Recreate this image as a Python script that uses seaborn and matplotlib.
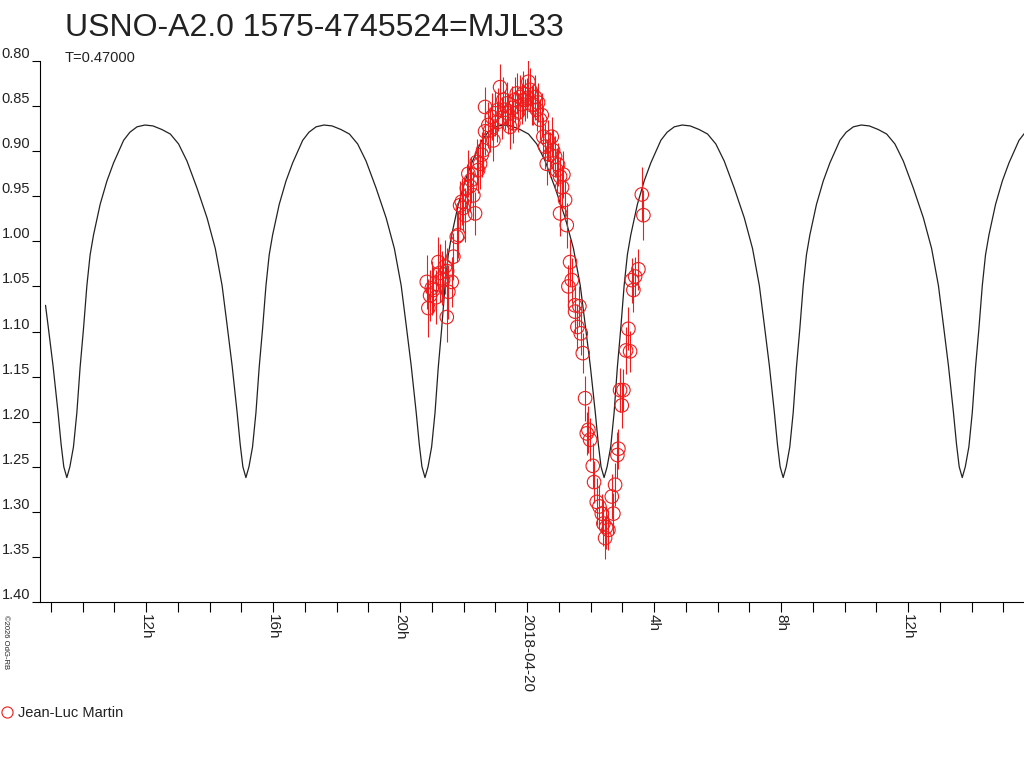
import numpy as np
import pandas as pd
import matplotlib
matplotlib.use("Agg")
import matplotlib.pyplot as plt
from matplotlib.lines import Line2D
from matplotlib.ticker import FormatStrFormatter, FixedLocator, MultipleLocator
import seaborn as sns

# ---------------- data ----------------
title = "USNO-A2.0 1575-4745524=MJL33"
period_days = 0.47
observer = "Jean-Luc Martin"

# observation times: hours relative to 2018-04-20 00:00 UT
obs_hours = [-3.159, -3.109, -3.055, -3.002, -2.961, -2.866, -2.794, -2.740, -2.687, -2.646,
             -2.583, -2.529, -2.520, -2.479, -2.372, -2.321, -2.214, -2.164, -2.110, -2.057,
             -2.016, -1.953, -1.899, -1.849, -1.795, -1.764, -1.691, -1.638, -1.584, -1.543,
             -1.480, -1.427, -1.386, -1.323, -1.323, -1.219, -1.165, -1.112, -1.061, -1.008,
             -0.945, -0.904, -0.850, -0.787, -0.746, -0.693, -0.639, -0.598, -0.535, -0.472,
             -0.431, -0.378, -0.324, -0.283, -0.220, -0.157, -0.117, -0.063, 0.000, 0.041,
             0.094, 0.148, 0.189, 0.252, 0.306, 0.346, 0.409, 0.463, 0.513, 0.567,
             0.620, 0.661, 0.724, 0.778, 0.819, 0.882, 0.935, 0.976, 1.039, 1.039,
             1.102, 1.143, 1.197, 1.250, 1.301, 1.354, 1.408, 1.512, 1.512, 1.584,
             1.647, 1.691, 1.754, 1.827, 1.880, 1.931, 1.984, 2.069, 2.110, 2.195,
             2.277, 2.353, 2.403, 2.457, 2.488, 2.561, 2.668, 2.718, 2.772, 2.844,
             2.876, 2.929, 2.983, 3.033, 3.118, 3.191, 3.244, 3.298, 3.348, 3.402,
             3.506, 3.613, 3.663]
obs_mag = [1.045, 1.074, 1.060, 1.052, 1.054, 1.062, 1.023, 1.035, 1.041, 1.043,
           1.028, 1.084, 1.033, 1.056, 1.045, 1.017, 0.995, 0.993, 0.960, 0.956,
           0.963, 0.971, 0.941, 0.925, 0.939, 0.932, 0.949, 0.969, 0.912, 0.921,
           0.914, 0.904, 0.899, 0.878, 0.851, 0.871, 0.877, 0.862, 0.888, 0.858,
           0.868, 0.854, 0.829, 0.863, 0.843, 0.854, 0.847, 0.858, 0.873, 0.852,
           0.869, 0.843, 0.836, 0.857, 0.840, 0.848, 0.836, 0.843, 0.841, 0.823,
           0.832, 0.849, 0.848, 0.840, 0.854, 0.846, 0.865, 0.860, 0.884, 0.895,
           0.914, 0.888, 0.904, 0.884, 0.899, 0.906, 0.921, 0.915, 0.928, 0.969,
           0.940, 0.926, 0.954, 0.982, 1.050, 1.023, 1.043, 1.071, 1.078, 1.095,
           1.072, 1.102, 1.124, 1.174, 1.213, 1.209, 1.220, 1.249, 1.267, 1.289,
           1.294, 1.302, 1.313, 1.329, 1.317, 1.320, 1.283, 1.302, 1.270, 1.237,
           1.230, 1.165, 1.182, 1.165, 1.121, 1.097, 1.122, 1.043, 1.054, 1.039,
           1.031, 0.948, 0.971]
obs_err = [0.030, 0.032, 0.028, 0.030, 0.026, 0.030, 0.028, 0.032, 0.030, 0.027,
           0.030, 0.028, 0.026, 0.030, 0.028, 0.026, 0.028, 0.025, 0.027, 0.026,
           0.025, 0.030, 0.027, 0.026, 0.028, 0.025, 0.027, 0.024, 0.026, 0.025,
           0.028, 0.025, 0.024, 0.026, 0.022, 0.025, 0.024, 0.026, 0.023, 0.025,
           0.022, 0.024, 0.026, 0.023, 0.025, 0.022, 0.024, 0.023, 0.025, 0.024,
           0.022, 0.025, 0.023, 0.022, 0.024, 0.022, 0.025, 0.023, 0.022, 0.026,
           0.024, 0.022, 0.023, 0.025, 0.024, 0.022, 0.023, 0.024, 0.022, 0.025,
           0.024, 0.023, 0.025, 0.022, 0.024, 0.023, 0.025, 0.024, 0.022, 0.025,
           0.024, 0.026, 0.023, 0.025, 0.024, 0.026, 0.025, 0.022, 0.024, 0.025,
           0.022, 0.024, 0.022, 0.025, 0.024, 0.026, 0.024, 0.025, 0.023, 0.026,
           0.024, 0.022, 0.025, 0.023, 0.024, 0.022, 0.025, 0.023, 0.024, 0.026,
           0.022, 0.024, 0.025, 0.023, 0.026, 0.024, 0.023, 0.025, 0.024, 0.022,
           0.023, 0.030, 0.028]

# model light curve: one half-period profile (phase from a minimum, magnitude)
profile_phase = [0.000, 0.017, 0.037, 0.056, 0.074, 0.093, 0.112, 0.130, 0.149, 0.186,
                 0.224, 0.261, 0.317, 0.352, 0.392, 0.436, 0.481, 0.531, 0.578, 0.624,
                 0.671, 0.727, 0.783, 0.829, 0.867, 0.881, 0.895, 0.923, 0.951, 0.968,
                 0.983, 1.000]
profile_mag = [1.262, 1.250, 1.228, 1.190, 1.140, 1.097, 1.049, 1.015, 0.993, 0.959,
               0.933, 0.913, 0.888, 0.879, 0.873, 0.871, 0.872, 0.876, 0.881, 0.892,
               0.911, 0.941, 0.974, 1.008, 1.049, 1.071, 1.093, 1.138, 1.190, 1.225,
               1.250, 1.262]
min_epoch_hours = 2.425          # time of a minimum (h from 2018-04-20 00:00)
curve_start_hours = -15.2
x_limits = (-15.34, 15.65)
y_ticks = [0.80, 0.85, 0.90, 0.95, 1.00, 1.05, 1.10, 1.15, 1.20, 1.25, 1.30, 1.35, 1.40]
x_major_hours = [-12, -8, -4, 0, 4, 8, 12]
x_major_labels = ["12h", "16h", "20h", "2018-04-20", "4h", "8h", "12h"]

# ---------------- build tables ----------------
half_period_h = period_days * 24 / 2
curve_t, curve_m = [], []
for k in range(-4, 4):
    for ph, m in zip(profile_phase[:-1], profile_mag[:-1]):
        t = min_epoch_hours + (k + ph) * half_period_h
        if curve_start_hours <= t <= x_limits[1] + 1:
            curve_t.append(t)
            curve_m.append(m)
curve = pd.DataFrame({"t": curve_t, "mag": curve_m})
obs = pd.DataFrame({"t": obs_hours, "mag": obs_mag, "err": obs_err})

# ---------------- plot ----------------
sns.set_style("white")
plt.rcParams["font.family"] = ["Liberation Sans", "DejaVu Sans"]

fig = plt.figure(figsize=(10.24, 7.68), dpi=100)
ax = fig.add_axes([40 / 1024, 1 - 602 / 768, 1 - 40 / 1024, (602 - 61) / 768])

sns.lineplot(data=curve, x="t", y="mag", ax=ax, color="#222222", linewidth=0.9,
             sort=False, estimator=None)
ax.errorbar(obs["t"], obs["mag"], yerr=obs["err"], fmt="none", ecolor="#ee1c1c",
            elinewidth=0.8, capsize=0, zorder=3)
sns.scatterplot(data=obs, x="t", y="mag", ax=ax, marker="o", s=95,
                facecolors="none", edgecolor="#ee1c1c", linewidth=0.8, zorder=4)

ax.set_xlim(*x_limits)
ax.set_ylim(1.40, 0.80)
ax.set_xlabel("")
ax.set_ylabel("")

for s in ["top", "right"]:
    ax.spines[s].set_visible(False)
for s in ["left", "bottom"]:
    ax.spines[s].set_color("black")
    ax.spines[s].set_linewidth(0.8)

ax.yaxis.set_major_locator(FixedLocator(y_ticks))
ax.yaxis.set_major_formatter(FormatStrFormatter("%.2f"))
ax.tick_params(axis="y", which="major", left=True, length=6, width=0.8, pad=1,
               labelsize=10.5, colors="black", labelcolor="#222222")
for lbl in ax.get_yticklabels():
    lbl.set_verticalalignment("bottom")

ax.xaxis.set_major_locator(FixedLocator(x_major_hours))
ax.set_xticklabels(x_major_labels, rotation=270, ha="center", va="top")
ax.xaxis.set_minor_locator(MultipleLocator(1))
ax.tick_params(axis="x", which="both", bottom=True, length=7, width=0.8, pad=2,
               labelsize=11, colors="black", labelcolor="#222222")

fig.text(65 / 1024, 1 - 28 / 768, title, fontsize=23, va="center", ha="left",
         color="#222222")
fig.text(65 / 1024, 1 - 58 / 768, f"T={period_days:.5f}", fontsize=10.5, va="center",
         ha="left", color="#222222")
fig.text(2 / 1024, 1 - 615 / 768, "\u00a92026 OdG-RB", fontsize=5.5, rotation=270,
         va="top", ha="left", color="#222222")

handle = Line2D([], [], marker="o", linestyle="", markerfacecolor="none",
                markeredgecolor="#ee1c1c", markersize=8, markeredgewidth=0.8)
fig.legend(handles=[handle], labels=[observer], loc="center left",
           bbox_to_anchor=(0.0, 1 - 713 / 768), frameon=False, handlelength=0.9,
           handletextpad=0.3, borderaxespad=0, borderpad=0, fontsize=10.5,
           labelcolor="#222222")

fig.savefig("out.png", dpi=100)
